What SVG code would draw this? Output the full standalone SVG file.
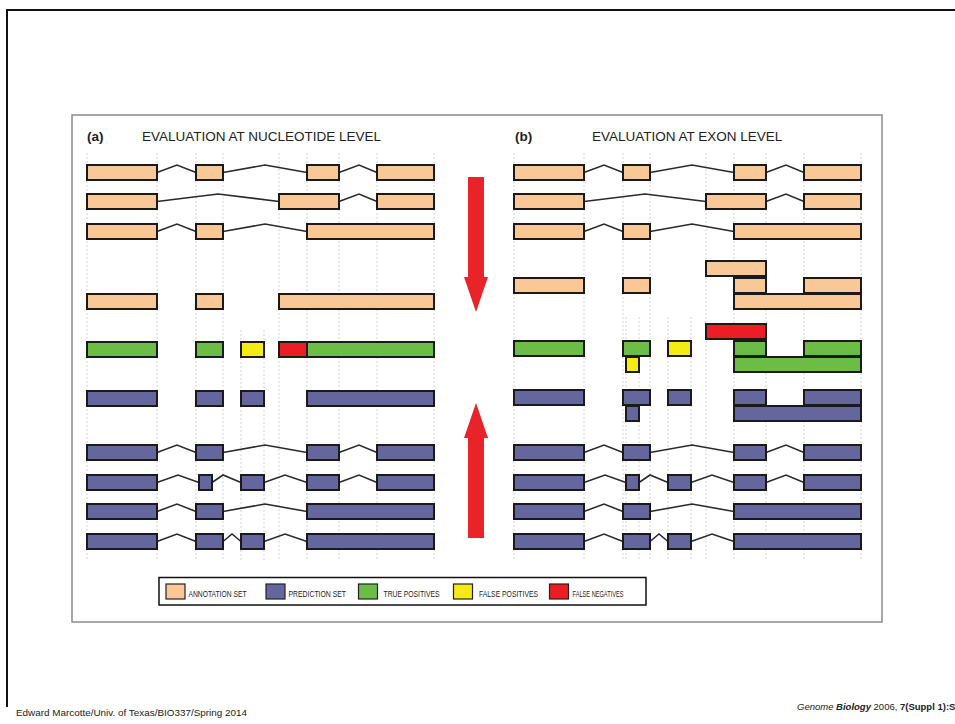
<svg xmlns="http://www.w3.org/2000/svg" width="955" height="724" viewBox="0 0 955 724">
<style>
.ann{fill:#FAC796;stroke:#1a1a1a;stroke-width:2}
.pred{fill:#66669E;stroke:#1a1a1a;stroke-width:2}
.tp{fill:#6BBD45;stroke:#1a1a1a;stroke-width:2}
.fp{fill:#F4EA16;stroke:#1a1a1a;stroke-width:2}
.fn{fill:#EC1D24;stroke:#1a1a1a;stroke-width:2}
.intron{fill:none;stroke:#2a2a2a;stroke-width:1.6;stroke-linejoin:miter}
.grid{stroke:#c8c8c8;stroke-width:0.8;stroke-dasharray:2 2}
.title{font-family:"Liberation Sans",Arial,sans-serif;font-size:13.5px;fill:#222}
.leg{font-family:"Liberation Sans",Arial,sans-serif;font-size:9px;fill:#222}
.sw{stroke:#222;stroke-width:1.2}
.arrow{fill:#E8232A}
</style>
<rect width="955" height="724" fill="#fff"/>
<!-- slide frame -->
<path d="M7,707 V10 H955" fill="none" stroke="#111" stroke-width="2"/>
<!-- panel box -->
<rect x="72" y="115" width="810" height="507" fill="#fff" stroke="#8c8c8c" stroke-width="1.5"/>

<!-- grid lines -->
<g id="grid">
<g class="grid">
<line x1="87" y1="153" x2="87" y2="560"/><line x1="157" y1="153" x2="157" y2="560"/>
<line x1="196" y1="153" x2="196" y2="560"/><line x1="223" y1="153" x2="223" y2="560"/>
<line x1="279" y1="153" x2="279" y2="560"/><line x1="307" y1="153" x2="307" y2="560"/>
<line x1="339" y1="153" x2="339" y2="560"/><line x1="377" y1="153" x2="377" y2="560"/>
<line x1="434" y1="153" x2="434" y2="560"/>
<line x1="241" y1="330" x2="241" y2="560"/><line x1="264" y1="330" x2="264" y2="560"/>
<line x1="514" y1="153" x2="514" y2="560"/><line x1="584" y1="153" x2="584" y2="560"/>
<line x1="623" y1="153" x2="623" y2="560"/><line x1="650" y1="153" x2="650" y2="560"/>
<line x1="706" y1="153" x2="706" y2="560"/><line x1="734" y1="153" x2="734" y2="560"/>
<line x1="766" y1="153" x2="766" y2="560"/><line x1="804" y1="153" x2="804" y2="560"/>
<line x1="861" y1="153" x2="861" y2="560"/>
<line x1="626" y1="317" x2="626" y2="560"/><line x1="639" y1="317" x2="639" y2="560"/>
<line x1="668" y1="317" x2="668" y2="560"/><line x1="691" y1="317" x2="691" y2="560"/>
</g>
</g>

<!-- titles -->
<g id="title-a">
<text x="87" y="141" class="title" font-weight="bold">(a)</text>
<text x="142" y="141" class="title">EVALUATION AT NUCLEOTIDE LEVEL</text>
</g>
<g id="title-b">
<text x="515" y="141" class="title" font-weight="bold">(b)</text>
<text x="592" y="141" class="title">EVALUATION AT EXON LEVEL</text>
</g>

<!-- connectors (introns) -->
<g id="connectors">
<!-- left -->
<polyline class="intron" points="157,172.5 177,165 196,172.5"/>
<polyline class="intron" points="223,172.5 265,165 307,172.5"/>
<polyline class="intron" points="339,172.5 359,165 377,172.5"/>
<polyline class="intron" points="157,201.5 218,194 279,201.5"/>
<polyline class="intron" points="339,201.5 359,194 377,201.5"/>
<polyline class="intron" points="157,231.5 177,224 196,231.5"/>
<polyline class="intron" points="223,231.5 265,224 307,231.5"/>
<polyline class="intron" points="157,452.5 177,445 196,452.5"/>
<polyline class="intron" points="223,452.5 265,445 307,452.5"/>
<polyline class="intron" points="339,452.5 359,445 377,452.5"/>
<polyline class="intron" points="157,482.5 178,475 199,482.5"/>
<polyline class="intron" points="212,482.5 223,475 241,482.5"/>
<polyline class="intron" points="264,482.5 285,475 307,482.5"/>
<polyline class="intron" points="339,482.5 359,475 377,482.5"/>
<polyline class="intron" points="157,511.5 177,504 196,511.5"/>
<polyline class="intron" points="223,511.5 265,504 307,511.5"/>
<polyline class="intron" points="157,541.5 177,534 196,541.5"/>
<polyline class="intron" points="223,541.5 232,534 241,541.5"/>
<polyline class="intron" points="264,541.5 285,534 307,541.5"/>
<!-- right -->
<polyline class="intron" points="584,172.5 604,165 623,172.5"/>
<polyline class="intron" points="650,172.5 692,165 734,172.5"/>
<polyline class="intron" points="766,172.5 786,165 804,172.5"/>
<polyline class="intron" points="584,201.5 645,194 706,201.5"/>
<polyline class="intron" points="766,201.5 786,194 804,201.5"/>
<polyline class="intron" points="584,231.5 604,224 623,231.5"/>
<polyline class="intron" points="650,231.5 692,224 734,231.5"/>
<polyline class="intron" points="584,452.5 604,445 623,452.5"/>
<polyline class="intron" points="650,452.5 692,445 734,452.5"/>
<polyline class="intron" points="766,452.5 786,445 804,452.5"/>
<polyline class="intron" points="584,482.5 605,475 626,482.5"/>
<polyline class="intron" points="639,482.5 650,475 668,482.5"/>
<polyline class="intron" points="691,482.5 712,475 734,482.5"/>
<polyline class="intron" points="766,482.5 786,475 804,482.5"/>
<polyline class="intron" points="584,511.5 604,504 623,511.5"/>
<polyline class="intron" points="650,511.5 692,504 734,511.5"/>
<polyline class="intron" points="584,541.5 604,534 623,541.5"/>
<polyline class="intron" points="650,541.5 659,534 668,541.5"/>
<polyline class="intron" points="691,541.5 712,534 734,541.5"/>
</g>

<!-- LEFT PANEL -->
<g id="a-ann-1">
<rect class="ann" x="87" y="165" width="70" height="15"/><rect class="ann" x="196" y="165" width="27" height="15"/>
<rect class="ann" x="307" y="165" width="32" height="15"/><rect class="ann" x="377" y="165" width="57" height="15"/>
</g>
<g id="a-ann-2">
<rect class="ann" x="87" y="194" width="70" height="15"/><rect class="ann" x="279" y="194" width="60" height="15"/>
<rect class="ann" x="377" y="194" width="57" height="15"/>
</g>
<g id="a-ann-3">
<rect class="ann" x="87" y="224" width="70" height="15"/><rect class="ann" x="196" y="224" width="27" height="15"/>
<rect class="ann" x="307" y="224" width="127" height="15"/>
</g>
<g id="a-ann-union">
<rect class="ann" x="87" y="294" width="70" height="15"/><rect class="ann" x="196" y="294" width="27" height="15"/>
<rect class="ann" x="279" y="294" width="155" height="15"/>
</g>
<g id="a-eval">
<rect class="tp" x="87" y="342" width="70" height="15"/><rect class="tp" x="196" y="342" width="27" height="15"/>
<rect class="fp" x="241" y="342" width="23" height="15"/><rect class="fn" x="279" y="342" width="28" height="15"/>
<rect class="tp" x="307" y="342" width="127" height="15"/>
</g>
<g id="a-pred-union">
<rect class="pred" x="87" y="391" width="70" height="15"/><rect class="pred" x="196" y="391" width="27" height="15"/>
<rect class="pred" x="241" y="391" width="23" height="15"/><rect class="pred" x="307" y="391" width="127" height="15"/>
</g>
<g id="a-pred-1">
<rect class="pred" x="87" y="445" width="70" height="15"/><rect class="pred" x="196" y="445" width="27" height="15"/>
<rect class="pred" x="307" y="445" width="32" height="15"/><rect class="pred" x="377" y="445" width="57" height="15"/>
</g>
<g id="a-pred-2">
<rect class="pred" x="87" y="475" width="70" height="15"/><rect class="pred" x="199" y="475" width="13" height="15"/>
<rect class="pred" x="241" y="475" width="23" height="15"/><rect class="pred" x="307" y="475" width="32" height="15"/>
<rect class="pred" x="377" y="475" width="57" height="15"/>
</g>
<g id="a-pred-3">
<rect class="pred" x="87" y="504" width="70" height="15"/><rect class="pred" x="196" y="504" width="27" height="15"/>
<rect class="pred" x="307" y="504" width="127" height="15"/>
</g>
<g id="a-pred-4">
<rect class="pred" x="87" y="534" width="70" height="15"/><rect class="pred" x="196" y="534" width="27" height="15"/>
<rect class="pred" x="241" y="534" width="23" height="15"/><rect class="pred" x="307" y="534" width="127" height="15"/>
</g>

<!-- RIGHT PANEL -->
<g id="b-ann-1">
<rect class="ann" x="514" y="165" width="70" height="15"/><rect class="ann" x="623" y="165" width="27" height="15"/>
<rect class="ann" x="734" y="165" width="32" height="15"/><rect class="ann" x="804" y="165" width="57" height="15"/>
</g>
<g id="b-ann-2">
<rect class="ann" x="514" y="194" width="70" height="15"/><rect class="ann" x="706" y="194" width="60" height="15"/>
<rect class="ann" x="804" y="194" width="57" height="15"/>
</g>
<g id="b-ann-3">
<rect class="ann" x="514" y="224" width="70" height="15"/><rect class="ann" x="623" y="224" width="27" height="15"/>
<rect class="ann" x="734" y="224" width="127" height="15"/>
</g>
<g id="b-ann-union">
<rect class="ann" x="706" y="261" width="60" height="15"/>
<rect class="ann" x="514" y="278" width="70" height="15"/><rect class="ann" x="623" y="278" width="27" height="15"/>
<rect class="ann" x="734" y="278" width="32" height="15"/><rect class="ann" x="804" y="278" width="57" height="15"/>
<rect class="ann" x="734" y="294" width="127" height="15"/>
</g>
<g id="b-eval">
<rect class="fn" x="706" y="324" width="60" height="15"/>
<rect class="tp" x="514" y="341" width="70" height="15"/><rect class="tp" x="623" y="341" width="27" height="15"/>
<rect class="fp" x="668" y="341" width="23" height="15"/>
<rect class="tp" x="734" y="341" width="32" height="15"/><rect class="tp" x="804" y="341" width="57" height="15"/>
<rect class="fp" x="626" y="357" width="13" height="15"/>
<rect class="tp" x="734" y="357" width="127" height="15"/>
</g>
<g id="b-pred-union">
<rect class="pred" x="514" y="390" width="70" height="15"/><rect class="pred" x="623" y="390" width="27" height="15"/>
<rect class="pred" x="668" y="390" width="23" height="15"/>
<rect class="pred" x="734" y="390" width="32" height="15"/><rect class="pred" x="804" y="390" width="57" height="15"/>
<rect class="pred" x="626" y="406" width="13" height="15"/>
<rect class="pred" x="734" y="406" width="127" height="15"/>
</g>
<g id="b-pred-1">
<rect class="pred" x="514" y="445" width="70" height="15"/><rect class="pred" x="623" y="445" width="27" height="15"/>
<rect class="pred" x="734" y="445" width="32" height="15"/><rect class="pred" x="804" y="445" width="57" height="15"/>
</g>
<g id="b-pred-2">
<rect class="pred" x="514" y="475" width="70" height="15"/><rect class="pred" x="626" y="475" width="13" height="15"/>
<rect class="pred" x="668" y="475" width="23" height="15"/><rect class="pred" x="734" y="475" width="32" height="15"/>
<rect class="pred" x="804" y="475" width="57" height="15"/>
</g>
<g id="b-pred-3">
<rect class="pred" x="514" y="504" width="70" height="15"/><rect class="pred" x="623" y="504" width="27" height="15"/>
<rect class="pred" x="734" y="504" width="127" height="15"/>
</g>
<g id="b-pred-4">
<rect class="pred" x="514" y="534" width="70" height="15"/><rect class="pred" x="623" y="534" width="27" height="15"/>
<rect class="pred" x="668" y="534" width="23" height="15"/><rect class="pred" x="734" y="534" width="127" height="15"/>
</g>

<!-- arrows -->
<g id="arrow-down">
<polygon class="arrow" points="468,177 484,177 484,277 488,277 476,312 464,277 468,277"/>
</g>
<g id="arrow-up">
<polygon class="arrow" points="476,403 488,438 484,438 484,538 468,538 468,438 464,438"/>
</g>

<!-- legend -->
<g id="legend">
<rect x="159" y="577.5" width="487" height="27.5" fill="#fff" stroke="#111" stroke-width="1.5"/>
<rect class="sw" x="166" y="584" width="19" height="15" fill="#FAC796"/>
<text class="leg" x="188.5" y="597" textLength="58" lengthAdjust="spacingAndGlyphs">ANNOTATION SET</text>
<rect class="sw" x="266" y="584" width="19" height="15" fill="#66669E"/>
<text class="leg" x="288.5" y="597" textLength="57.5" lengthAdjust="spacingAndGlyphs">PREDICTION SET</text>
<rect class="sw" x="358.5" y="584" width="19" height="15" fill="#6BBD45"/>
<text class="leg" x="383.5" y="597" textLength="56" lengthAdjust="spacingAndGlyphs">TRUE POSITIVES</text>
<rect class="sw" x="453.5" y="584" width="19" height="15" fill="#F4EA16"/>
<text class="leg" x="479" y="597" textLength="59" lengthAdjust="spacingAndGlyphs">FALSE POSITIVES</text>
<rect class="sw" x="549.5" y="584" width="19" height="15" fill="#EC1D24"/>
<text class="leg" x="572.5" y="597" textLength="51" lengthAdjust="spacingAndGlyphs">FALSE NEGATIVES</text>
</g>

<!-- footer -->
<g id="footer">
<text x="16" y="716" font-family="'Liberation Sans',Arial,sans-serif" font-size="9.5" fill="#222" textLength="231" lengthAdjust="spacingAndGlyphs">Edward Marcotte/Univ. of Texas/BIO337/Spring 2014</text>
<text x="797" y="710" font-family="'Liberation Sans',Arial,sans-serif" font-size="9.5" fill="#222"><tspan font-style="italic">Genome </tspan><tspan font-style="italic" font-weight="bold">Biology</tspan><tspan> 2006, </tspan><tspan font-weight="bold">7(Suppl 1):S</tspan></text>
</g>
</svg>
